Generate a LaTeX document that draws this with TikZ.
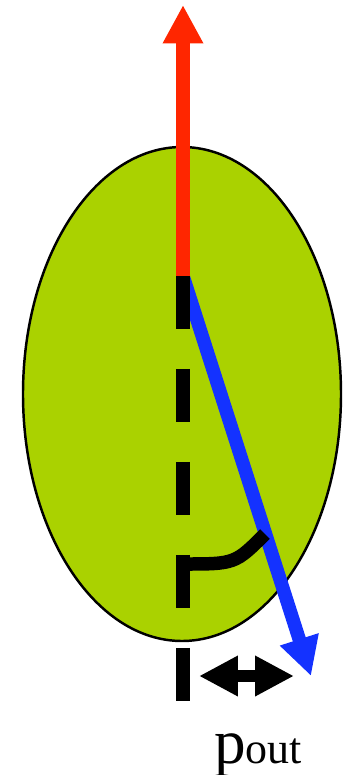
\documentclass[tikz,border=0pt]{standalone}
\usepackage{fontspec}
\setmainfont{Liberation Serif}
\usetikzlibrary{arrows.meta,positioning,calc}
\definecolor{cellgreen}{RGB}{170,210,0}
\definecolor{axisred}{RGB}{255,38,0}
\definecolor{polblue}{RGB}{20,50,255}

\begin{document}
\begin{tikzpicture}[x=0.02cm, y=-0.02cm,
    thickline/.style={line width=0.27cm},
    bigtip/.style={-{Triangle[width=0.76cm,length=0.77cm]}},
    twotip/.style={{Triangle[width=0.76cm,length=0.78cm]}-{Triangle[width=0.76cm,length=0.78cm]}}
]
    \useasboundingbox (0,0) rectangle (343,775);

    % cell body
    \draw[fill=cellgreen, line width=1.4pt] (182,394) ellipse [x radius=159, y radius=247];

    \coordinate (top) at (183,276);
    \coordinate (redtip) at (183,5);
    \coordinate (bluetip) at (311,676);
    \coordinate (axisend) at (183,703);
    \coordinate (arcstart) at (183,564);
    \coordinate (arcend) at (265,534);
    \coordinate (pl) at (199,676);
    \coordinate (pr) at (294,676);

    \draw[thickline, polblue, bigtip] (top) -- (bluetip);
    \draw[thickline, axisred, bigtip] (top) -- (redtip);
    \draw[thickline, black, dash pattern=on 1.06cm off 0.8cm] (top) -- (axisend);
    \draw[thickline, black] (arcstart) .. controls (235,564) .. (arcend);

    % offset
    \draw[line width=0.24cm, black, twotip] (pl) -- (pr);
    \node[anchor=base, inner sep=0pt] (pout) at (258,763)
        {{\fontsize{36}{40}\selectfont p}{\fontsize{25}{28}\selectfont out}};
\end{tikzpicture}
\end{document}
